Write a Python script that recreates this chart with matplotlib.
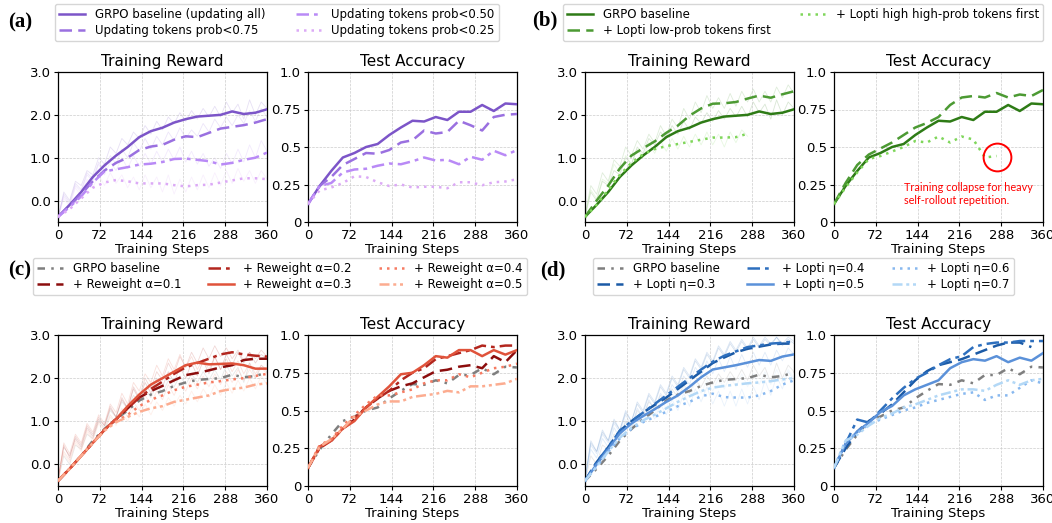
import numpy as np
import matplotlib
matplotlib.use("Agg")
import matplotlib.pyplot as plt

plt.rcParams['font.family'] = ['DejaVu Sans']

steps = list(range(0, 361, 20))
raw_steps = list(range(0, 361, 10))
xticks = [0, 72, 144, 216, 288, 360]

# ---------------- data: smoothed training reward ----------------
rw_base = [-0.38, -0.1, 0.2, 0.55, 0.82, 1.05, 1.25, 1.48, 1.62, 1.7, 1.82, 1.9, 1.96, 1.98, 2.0, 2.08, 2.02, 2.05, 2.13]
rw_a75 = [-0.38, -0.12, 0.15, 0.45, 0.7, 0.88, 1.0, 1.18, 1.26, 1.3, 1.42, 1.5, 1.48, 1.58, 1.68, 1.72, 1.76, 1.82, 1.9]
rw_a50 = [-0.38, -0.15, 0.1, 0.42, 0.68, 0.73, 0.78, 0.84, 0.86, 0.9, 0.97, 0.98, 0.95, 0.92, 0.84, 0.88, 0.95, 1.0, 1.12]
rw_a25 = [-0.38, -0.2, 0.05, 0.3, 0.42, 0.48, 0.45, 0.4, 0.4, 0.4, 0.36, 0.33, 0.36, 0.37, 0.42, 0.47, 0.52, 0.52, 0.5]
rw_b_low = [-0.38, 0.0, 0.35, 0.75, 1.05, 1.22, 1.38, 1.58, 1.75, 1.98, 2.15, 2.26, 2.27, 2.3, 2.38, 2.45, 2.4, 2.48, 2.55]
rw_b_high = [-0.38, -0.1, 0.25, 0.6, 0.88, 1.08, 1.2, 1.27, 1.32, 1.37, 1.42, 1.47, 1.47, 1.48, 1.56]
rw_c1 = [-0.38, -0.1, 0.2, 0.5, 0.8, 1.05, 1.3, 1.55, 1.7, 1.82, 1.95, 2.07, 2.12, 2.18, 2.25, 2.3, 2.42, 2.45, 2.45]
rw_c2 = [-0.38, -0.1, 0.2, 0.5, 0.8, 1.05, 1.3, 1.55, 1.75, 1.92, 2.1, 2.25, 2.35, 2.45, 2.55, 2.6, 2.55, 2.52, 2.5]
rw_c3 = [-0.38, -0.1, 0.2, 0.5, 0.8, 1.05, 1.35, 1.62, 1.85, 2.0, 2.15, 2.3, 2.36, 2.32, 2.33, 2.34, 2.3, 2.22, 2.22]
rw_c4 = [-0.38, -0.1, 0.2, 0.5, 0.8, 1.0, 1.15, 1.35, 1.5, 1.6, 1.72, 1.8, 1.85, 1.9, 1.93, 1.97, 2.0, 2.05, 2.1]
rw_c5 = [-0.38, -0.1, 0.2, 0.5, 0.78, 0.98, 1.1, 1.22, 1.3, 1.35, 1.45, 1.5, 1.55, 1.6, 1.7, 1.75, 1.78, 1.85, 1.88]
rw_d3 = [-0.38, 0.05, 0.4, 0.78, 1.0, 1.2, 1.38, 1.55, 1.75, 1.95, 2.15, 2.35, 2.48, 2.6, 2.68, 2.73, 2.78, 2.8, 2.8]
rw_d4 = [-0.38, 0.05, 0.4, 0.78, 1.0, 1.2, 1.4, 1.6, 1.8, 2.0, 2.2, 2.38, 2.52, 2.62, 2.72, 2.76, 2.8, 2.82, 2.85]
rw_d5 = [-0.38, 0.0, 0.35, 0.72, 0.95, 1.12, 1.28, 1.45, 1.6, 1.8, 2.02, 2.2, 2.25, 2.3, 2.36, 2.42, 2.4, 2.5, 2.55]
rw_d6 = [-0.38, -0.05, 0.3, 0.6, 0.82, 0.98, 1.1, 1.22, 1.35, 1.45, 1.58, 1.64, 1.56, 1.55, 1.55, 1.6, 1.7, 1.85, 1.95]
rw_d7 = [-0.38, -0.05, 0.3, 0.62, 0.85, 1.02, 1.15, 1.3, 1.45, 1.58, 1.7, 1.78, 1.82, 1.85, 1.88, 1.9, 1.93, 1.97, 2.0]

# ---------------- data: raw (unsmoothed) training reward ----------------
raw_base = [-0.4, 0.2, 0.0, 0.45, 0.35, 0.7, 0.6, 1.0, 0.85, 1.25, 1.1, 1.45, 1.3, 1.6, 1.45, 1.75, 1.55, 1.85, 1.65, 1.95, 1.8, 2.05, 1.85, 2.1, 1.9, 2.15, 1.95, 2.2, 1.95, 2.3, 2.05, 2.25, 1.9, 2.35, 2.0, 2.3, 2.15]
raw_a75 = [-0.4, 0.15, -0.05, 0.4, 0.25, 0.65, 0.5, 0.9, 0.7, 1.05, 0.85, 1.2, 1.0, 1.35, 1.15, 1.45, 1.2, 1.5, 1.3, 1.6, 1.4, 1.7, 1.45, 1.65, 1.5, 1.8, 1.6, 1.9, 1.7, 1.95, 1.75, 2.0, 1.8, 2.1, 1.85, 2.15, 1.95]
raw_a50 = [-0.4, 0.1, -0.1, 0.35, 0.2, 0.6, 0.45, 0.85, 0.6, 0.9, 0.7, 1.0, 0.75, 1.05, 0.8, 1.1, 0.85, 1.15, 0.9, 1.2, 0.95, 1.25, 0.9, 1.15, 0.85, 1.1, 0.8, 1.0, 0.75, 1.1, 0.85, 1.2, 0.9, 1.3, 1.0, 1.4, 1.15]
raw_a25 = [-0.4, 0.05, -0.15, 0.3, 0.1, 0.5, 0.3, 0.6, 0.35, 0.65, 0.4, 0.6, 0.3, 0.55, 0.25, 0.6, 0.3, 0.55, 0.2, 0.6, 0.15, 0.5, 0.2, 0.55, 0.25, 0.6, 0.3, 0.65, 0.35, 0.7, 0.4, 0.75, 0.45, 0.7, 0.4, 0.7, 0.5]
raw_b_low = [-0.35, 0.35, 0.15, 0.65, 0.45, 0.95, 0.8, 1.25, 1.05, 1.4, 1.2, 1.55, 1.35, 1.75, 1.5, 1.9, 1.7, 2.15, 1.9, 2.3, 2.05, 2.45, 2.15, 2.4, 2.15, 2.5, 2.2, 2.55, 2.3, 2.6, 2.3, 2.55, 2.3, 2.65, 2.4, 2.7, 2.5]
raw_b_high = [-0.35, 0.25, 0.05, 0.5, 0.4, 0.85, 0.65, 1.05, 0.85, 1.2, 1.0, 1.35, 1.1, 1.4, 1.15, 1.45, 1.2, 1.5, 1.25, 1.55, 1.3, 1.6, 1.3, 1.55, 1.25, 1.6, 1.35, 1.65, 1.5]
raw_c1 = [-0.35, 0.4, 0.2, 0.6, 0.4, 0.85, 0.65, 1.05, 0.9, 1.3, 1.1, 1.5, 1.3, 1.75, 1.5, 1.9, 1.65, 2.0, 1.8, 2.15, 1.9, 2.25, 2.0, 2.35, 2.05, 2.4, 2.1, 2.5, 2.2, 2.55, 2.3, 2.6, 2.35, 2.6, 2.35, 2.55, 2.45]
raw_c2 = [-0.35, 0.45, 0.15, 0.65, 0.45, 0.9, 0.7, 1.1, 0.9, 1.35, 1.1, 1.55, 1.3, 1.8, 1.55, 2.0, 1.75, 2.15, 1.95, 2.35, 2.1, 2.5, 2.25, 2.6, 2.35, 2.7, 2.45, 2.75, 2.5, 2.7, 2.45, 2.65, 2.4, 2.6, 2.45, 2.65, 2.5]
raw_c3 = [-0.35, 0.5, 0.25, 0.7, 0.5, 0.95, 0.75, 1.15, 0.95, 1.4, 1.2, 1.65, 1.4, 1.9, 1.7, 2.1, 1.9, 2.3, 2.05, 2.45, 2.2, 2.55, 2.25, 2.5, 2.2, 2.45, 2.2, 2.5, 2.2, 2.45, 2.15, 2.4, 2.1, 2.35, 2.1, 2.3, 2.2]
raw_c4 = [-0.35, 0.3, 0.1, 0.55, 0.35, 0.8, 0.6, 1.0, 0.8, 1.15, 0.95, 1.3, 1.1, 1.45, 1.25, 1.6, 1.4, 1.7, 1.5, 1.85, 1.6, 1.9, 1.7, 2.0, 1.75, 2.05, 1.8, 2.1, 1.85, 2.15, 1.9, 2.2, 1.95, 2.2, 2.0, 2.25, 2.1]
raw_c5 = [-0.35, 0.25, 0.05, 0.5, 0.3, 0.75, 0.55, 0.95, 0.75, 1.1, 0.9, 1.2, 1.0, 1.3, 1.1, 1.4, 1.15, 1.45, 1.25, 1.55, 1.35, 1.6, 1.4, 1.7, 1.45, 1.75, 1.55, 1.85, 1.6, 1.9, 1.65, 1.95, 1.7, 2.0, 1.75, 2.05, 1.85]
raw_d3 = [-0.35, 0.5, 0.3, 0.75, 0.55, 1.0, 0.8, 1.2, 1.0, 1.4, 1.2, 1.6, 1.4, 1.8, 1.6, 2.0, 1.8, 2.2, 2.0, 2.4, 2.2, 2.55, 2.35, 2.7, 2.5, 2.8, 2.6, 2.85, 2.65, 2.9, 2.7, 2.9, 2.75, 2.95, 2.75, 2.9, 2.8]
raw_d4 = [-0.35, 0.55, 0.3, 0.8, 0.55, 1.05, 0.8, 1.25, 1.0, 1.45, 1.25, 1.65, 1.45, 1.85, 1.65, 2.05, 1.85, 2.25, 2.05, 2.45, 2.25, 2.6, 2.4, 2.75, 2.55, 2.85, 2.65, 2.9, 2.7, 2.95, 2.75, 2.95, 2.8, 2.95, 2.8, 2.95, 2.85]
raw_d5 = [-0.35, 0.45, 0.25, 0.7, 0.5, 0.95, 0.75, 1.15, 0.9, 1.3, 1.1, 1.5, 1.25, 1.65, 1.45, 1.85, 1.65, 2.05, 1.85, 2.25, 2.05, 2.4, 2.1, 2.45, 2.15, 2.5, 2.2, 2.55, 2.25, 2.6, 2.3, 2.6, 2.3, 2.65, 2.4, 2.7, 2.55]
raw_d6 = [-0.35, 0.35, 0.15, 0.6, 0.4, 0.85, 0.6, 1.0, 0.8, 1.15, 0.95, 1.3, 1.05, 1.4, 1.15, 1.5, 1.25, 1.65, 1.35, 1.75, 1.45, 1.8, 1.4, 1.7, 1.35, 1.7, 1.35, 1.75, 1.4, 1.8, 1.5, 1.95, 1.6, 2.05, 1.75, 2.15, 1.95]
raw_d7 = [-0.35, 0.35, 0.15, 0.6, 0.4, 0.85, 0.65, 1.05, 0.85, 1.2, 1.0, 1.35, 1.15, 1.5, 1.3, 1.65, 1.45, 1.8, 1.55, 1.9, 1.65, 1.95, 1.7, 2.0, 1.75, 2.05, 1.8, 2.1, 1.8, 2.1, 1.85, 2.15, 1.85, 2.2, 1.9, 2.2, 2.0]

# ---------------- data: test accuracy ----------------
acc_base = [0.12, 0.24, 0.34, 0.43, 0.46, 0.5, 0.52, 0.58, 0.63, 0.675, 0.67, 0.7, 0.68, 0.735, 0.735, 0.78, 0.74, 0.79, 0.785]
acc_a75 = [0.12, 0.24, 0.3, 0.38, 0.42, 0.46, 0.455, 0.48, 0.53, 0.545, 0.61, 0.59, 0.6, 0.675, 0.645, 0.61, 0.7, 0.715, 0.72]
acc_a50 = [0.12, 0.24, 0.26, 0.33, 0.35, 0.355, 0.375, 0.39, 0.385, 0.405, 0.43, 0.41, 0.415, 0.385, 0.435, 0.415, 0.475, 0.445, 0.48]
acc_a25 = [0.12, 0.21, 0.23, 0.26, 0.305, 0.3, 0.265, 0.24, 0.25, 0.23, 0.235, 0.235, 0.225, 0.265, 0.265, 0.245, 0.265, 0.27, 0.285]
acc_b_low = [0.12, 0.26, 0.38, 0.45, 0.49, 0.53, 0.58, 0.63, 0.66, 0.7, 0.78, 0.83, 0.84, 0.83, 0.86, 0.83, 0.85, 0.84, 0.88]
acc_b_high = [0.12, 0.23, 0.33, 0.42, 0.44, 0.47, 0.5, 0.54, 0.53, 0.57, 0.53, 0.57, 0.55, 0.43, 0.44]
acc_c1 = [0.12, 0.26, 0.3, 0.38, 0.44, 0.52, 0.58, 0.63, 0.66, 0.68, 0.72, 0.76, 0.77, 0.79, 0.8, 0.78, 0.86, 0.82, 0.9]
acc_c2 = [0.12, 0.25, 0.3, 0.38, 0.45, 0.52, 0.58, 0.63, 0.7, 0.75, 0.78, 0.84, 0.86, 0.88, 0.9, 0.93, 0.92, 0.93, 0.93]
acc_c3 = [0.12, 0.26, 0.3, 0.38, 0.43, 0.52, 0.59, 0.66, 0.74, 0.75, 0.8, 0.86, 0.85, 0.9, 0.9, 0.86, 0.9, 0.87, 0.9]
acc_c4 = [0.12, 0.27, 0.31, 0.4, 0.47, 0.54, 0.6, 0.6, 0.62, 0.64, 0.68, 0.7, 0.7, 0.74, 0.72, 0.75, 0.78, 0.79, 0.81]
acc_c5 = [0.12, 0.26, 0.31, 0.38, 0.46, 0.5, 0.54, 0.56, 0.56, 0.59, 0.6, 0.61, 0.63, 0.62, 0.66, 0.66, 0.67, 0.68, 0.71]
acc_d3 = [0.12, 0.25, 0.36, 0.43, 0.48, 0.54, 0.62, 0.7, 0.76, 0.8, 0.82, 0.84, 0.87, 0.9, 0.93, 0.95, 0.95, 0.92]
acc_d4 = [0.12, 0.28, 0.44, 0.42, 0.5, 0.58, 0.65, 0.71, 0.75, 0.8, 0.84, 0.86, 0.92, 0.94, 0.95, 0.95, 0.96, 0.96, 0.96]
acc_d5 = [0.12, 0.28, 0.36, 0.42, 0.49, 0.53, 0.6, 0.64, 0.67, 0.7, 0.78, 0.82, 0.84, 0.83, 0.86, 0.82, 0.85, 0.83, 0.88]
acc_d6 = [0.12, 0.3, 0.35, 0.41, 0.44, 0.47, 0.5, 0.52, 0.55, 0.57, 0.59, 0.61, 0.62, 0.57, 0.6, 0.6, 0.65, 0.7, 0.68]
acc_d7 = [0.12, 0.3, 0.34, 0.4, 0.45, 0.48, 0.52, 0.54, 0.57, 0.6, 0.62, 0.64, 0.64, 0.63, 0.67, 0.7, 0.67, 0.7, 0.71]

# ---------------- styles ----------------
GRAY = '#7f7f7f'
DASHDOT = (0, (5, 2, 1.5, 2))
DASHDOTDOT = (0, (4, 1.5, 1.2, 1.5, 1.2, 1.5))
GDASH = (0, (3, 2.5, 1, 2.5))

panels = {
    'a': dict(
        labels=['GRPO baseline (updating all)', 'Updating tokens prob<0.75',
                'Updating tokens prob<0.50', 'Updating tokens prob<0.25'],
        colors=['#7c55c8', '#9a70e0', '#b98af6', '#dcaaf6'],
        styles=['-', (0, (5, 2.5)), DASHDOT, (0, (1, 2))],
        rw=[rw_base, rw_a75, rw_a50, rw_a25],
        raw=[raw_base, raw_a75, raw_a50, raw_a25],
        acc=[acc_base, acc_a75, acc_a50, acc_a25], ncol=2),
    'b': dict(
        labels=['GRPO baseline', '+ Lopti low-prob tokens first',
                '+ Lopti high high-prob tokens first'],
        colors=['#2e7b16', '#4c9a33', '#7fd65a'],
        styles=['-', (0, (5, 2.5)), (0, (1, 2))],
        rw=[rw_base, rw_b_low, rw_b_high],
        raw=[raw_base, raw_b_low, raw_b_high],
        acc=[acc_base, acc_b_low, acc_b_high], ncol=2),
    'c': dict(
        labels=['GRPO baseline', '+ Reweight α=0.1', '+ Reweight α=0.2',
                '+ Reweight α=0.3', '+ Reweight α=0.4', '+ Reweight α=0.5'],
        colors=[GRAY, '#8c0d0d', '#b3261e', '#e0533b', '#f67b62', '#fcac90'],
        styles=[GDASH, (0, (5, 2.5)), DASHDOT, '-', (0, (1, 2)), DASHDOTDOT],
        rw=[rw_base, rw_c1, rw_c2, rw_c3, rw_c4, rw_c5],
        raw=[raw_base, raw_c1, raw_c2, raw_c3, raw_c4, raw_c5],
        acc=[acc_base, acc_c1, acc_c2, acc_c3, acc_c4, acc_c5], ncol=3),
    'd': dict(
        labels=['GRPO baseline', '+ Lopti η=0.3', '+ Lopti η=0.4',
                '+ Lopti η=0.5', '+ Lopti η=0.6', '+ Lopti η=0.7'],
        colors=[GRAY, '#1b5aa6', '#2d6fbe', '#5b91d9', '#88b8ef', '#b3d8f6'],
        styles=[GDASH, (0, (5, 2.5)), DASHDOT, '-', (0, (1, 2)), DASHDOTDOT],
        rw=[rw_base, rw_d3, rw_d4, rw_d5, rw_d6, rw_d7],
        raw=[raw_base, raw_d3, raw_d4, raw_d5, raw_d6, raw_d7],
        acc=[acc_base, acc_d3, acc_d4, acc_d5, acc_d6, acc_d7], ncol=3),
}

W, H = 1052, 523
fig = plt.figure(figsize=(W / 100, H / 100), dpi=100)

def fx(px):
    return px / W

def fy(py):
    return 1 - py / H

xl = {'a': (58, 308), 'b': (585, 834), 'c': (58, 308), 'd': (585, 834)}
yrow = {'a': (72, 222), 'b': (72, 222), 'c': (335, 486), 'd': (335, 486)}
AW = 209

TICK_FS = 9.5

def style_ax(ax, acc):
    ax.set_xlim(0, 360)
    ax.set_xticks(xticks)
    ax.set_xticklabels([str(t) for t in xticks], fontsize=TICK_FS)
    if acc:
        ax.set_ylim(0, 1.0)
        ax.set_yticks([0, 0.25, 0.5, 0.75, 1.0])
        ax.set_yticklabels(['0', '0.25', '0.5', '0.75', '1.0'], fontsize=TICK_FS)
    else:
        ax.set_ylim(-0.5, 3.0)
        ax.set_yticks([0, 1, 2, 3])
        ax.set_yticklabels(['0.0', '1.0', '2.0', '3.0'], fontsize=TICK_FS)
    ax.grid(True, linestyle='--', linewidth=0.5, color='#cccccc')
    ax.tick_params(length=3, pad=2)
    for s in ax.spines.values():
        s.set_linewidth(0.9)

all_axes = {}
for key, p in panels.items():
    x1, x2 = xl[key]
    yt, yb = yrow[key]
    ax1 = fig.add_axes([fx(x1), fy(yb), AW / W, (yb - yt) / H])
    ax2 = fig.add_axes([fx(x2), fy(yb), AW / W, (yb - yt) / H])
    all_axes[key] = (ax1, ax2)
    handles = []
    for lab, col, ls, rw, raw, acc in zip(p['labels'], p['colors'], p['styles'], p['rw'], p['raw'], p['acc']):
        ax1.plot(raw_steps[:len(raw)], raw, color=col, lw=0.6, alpha=0.18, zorder=1)
        h, = ax1.plot(steps[:len(rw)], rw, color=col, ls=ls, lw=1.8, label=lab, zorder=3)
        ax2.plot(steps[:len(acc)], acc, color=col, ls=ls, lw=1.8, zorder=3)
        handles.append(h)
    style_ax(ax1, False)
    style_ax(ax2, True)
    ax1.set_title('Training Reward', fontsize=11, pad=4)
    ax2.set_title('Test Accuracy', fontsize=11, pad=4)
    ax1.set_xlabel('Training Steps', fontsize=9.5, labelpad=1)
    ax2.set_xlabel('Training Steps', fontsize=9.5, labelpad=1)
    p['handles'] = handles

# legends: (left, right, top, bottom) in pixels
leg_boxes = {'a': (55, 499, 4, 43), 'b': (563, 1043, 4, 43),
             'c': (33, 527, 258, 298), 'd': (593, 1014, 258, 298)}
for key, p in panels.items():
    l, r, t, b = leg_boxes[key]
    fig.legend(handles=p['handles'], labels=p['labels'], ncol=p['ncol'],
               loc='upper left', bbox_to_anchor=(fx(l), fy(b), (r - l) / W, (b - t) / H),
               mode='expand', fontsize=8.5, frameon=True, handlelength=2.2,
               borderaxespad=0, labelspacing=0.25, handletextpad=0.8,
               borderpad=0.35, edgecolor='#cccccc', fancybox=True)

# panel labels
plabels = {'a': (8, 22), 'b': (532, 20), 'c': (8, 270), 'd': (540, 270)}
for key, (px, py) in plabels.items():
    fig.text(fx(px), fy(py), f'({key})', fontsize=15, fontweight='bold',
             family='Liberation Serif', va='center', ha='left')

# annotation in (b) test accuracy
axb2 = all_axes['b'][1]
axb2.plot([281], [0.433], marker='o', ms=20, mfc='none', mec='red', mew=1.4, zorder=5)
axb2.text(121, 0.265, 'Training collapse for heavy\nself-rollout repetition.',
          color='red', fontsize=7.8, family='Lato', va='top', ha='left', linespacing=1.15)

fig.savefig('out.png', dpi=100)
